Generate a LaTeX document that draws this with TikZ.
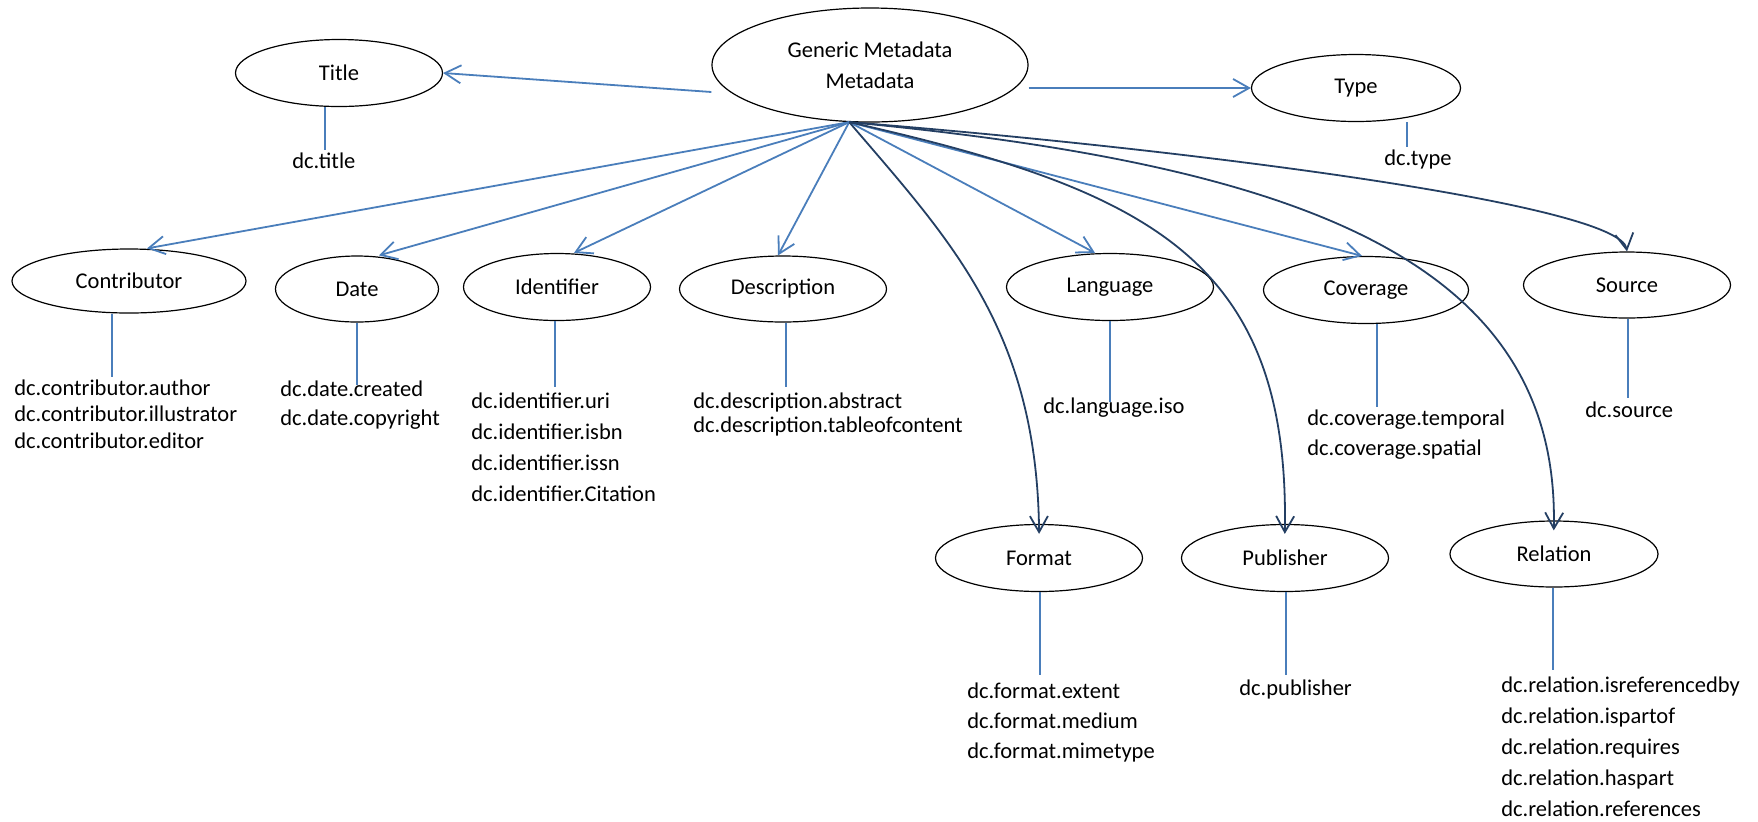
\documentclass[tikz,border=0pt]{standalone}
\usepackage{fontspec}
\setmainfont{Carlito}
\usetikzlibrary{shapes.geometric,arrows.meta}

\definecolor{dcblue}{RGB}{74,126,187}
\definecolor{dcnavy}{RGB}{36,63,99}
\newcommand{\dcfont}{\fontsize{11.25}{13.5}\selectfont}

\tikzset{
  oval/.style 2 args={draw, ellipse, inner sep=0pt, line width=0.6pt,
    minimum width=#1*0.5pt, minimum height=#2*0.5pt},
  leaf/.style={anchor=base west, inner sep=0pt},
  stemline/.style={dcblue, line width=0.7pt},
  link/.style={->, dcblue, line width=0.9pt},
  curvelink/.style={->, dcnavy, line width=0.9pt}
}

\begin{document}
\begin{tikzpicture}[x=0.5pt,y=-0.5pt,>={Straight Barb[length=8pt,width=9pt]},font=\dcfont]
\useasboundingbox (0,0) rectangle (1758,821);

% elements
\node[oval={316}{114}, align=center] (gen) at (870,65) {Generic Metadata\\[2pt]Metadata};
\node[oval={207}{67}] (title) at (339,73) {Title};
\node[oval={209}{67}] (type) at (1356,88) {Type};
\node[oval={234}{64}] (contrib) at (129,281) {Contributor};
\node[oval={163}{66}] (date) at (357,289) {Date};
\node[oval={187}{67}] (ident) at (557,287) {Identifier};
\node[oval={207}{66}] (desc) at (783,289) {Description};
\node[oval={207}{67}] (lang) at (1110,287) {Language};
\node[oval={205}{67}] (cov) at (1366,290) {Coverage};
\node[oval={207}{66}] (source) at (1627,285) {Source};
\node[oval={207}{67}] (format) at (1039,558) {Format};
\node[oval={207}{67}] (pub) at (1285,558) {Publisher};
\node[oval={208}{66}] (rel) at (1554,554) {Relation};

% qualifiers
\node[leaf] (title-1) at (292,168) {dc.title};
\node[leaf] (type-1) at (1384,165) {dc.type};
\foreach \t [count=\i] in {dc.contributor.author,dc.contributor.illustrator,dc.contributor.editor}
  \node[leaf] (contrib-\i) at (14,{395+(\i-1)*26.5}) {\t};
\foreach \t [count=\i] in {dc.date.created,dc.date.copyright}
  \node[leaf] (date-\i) at (280,{396+(\i-1)*29}) {\t};
\foreach \t [count=\i] in {dc.identifier.uri,dc.identifier.isbn,dc.identifier.issn,dc.identifier.Citation}
  \node[leaf] (ident-\i) at (471,{408+(\i-1)*31.3}) {\t};
\foreach \t [count=\i] in {dc.description.abstract,dc.description.tableofcontent}
  \node[leaf] (desc-\i) at (693,{408+(\i-1)*24}) {\t};
\node[leaf] (lang-1) at (1043,413) {dc.language.iso};
\foreach \t [count=\i] in {dc.coverage.temporal,dc.coverage.spatial}
  \node[leaf] (cov-\i) at (1307,{425+(\i-1)*30}) {\t};
\node[leaf] (source-1) at (1585,417) {dc.source};
\foreach \t [count=\i] in {dc.format.extent,dc.format.medium,dc.format.mimetype}
  \node[leaf] (format-\i) at (967,{698+(\i-1)*30}) {\t};
\node[leaf] (pub-1) at (1239,695) {dc.publisher};
\foreach \t [count=\i] in {dc.relation.isreferencedby,dc.relation.ispartof,dc.relation.requires,dc.relation.haspart,dc.relation.references}
  \node[leaf] (rel-\i) at (1501,{692+(\i-1)*31}) {\t};

% stems
\foreach \n/\x/\y in {title/325/150,type/1407/147,contrib/112/377,date/357/385,ident/555/387,
  desc/786/387,lang/1110/402,cov/1377/407,source/1628/398,format/1040/675,pub/1286/675,rel/1553/670}
{
  \coordinate (\n-end) at (\x,\y);
  \draw[stemline] (\n.south -| \n-end) -- (\n-end);
}

% arrows
\coordinate (hub) at (gen.250);
\draw[link] ([yshift=-13.5pt]gen.west) -- (title.east);
\draw[link] (gen.east |- type.west) -- (type.west);
\foreach \n/\s in {contrib/9,date/11,ident/8.5,desc/-2.5,lang/-7.5,cov/-2}
  \draw[link] (hub) -- ([xshift=\s pt]\n.north);
\draw[curvelink,shorten >=-5pt] (hub) .. controls (950,240) and (1037,330) .. (format.north);
\draw[curvelink,shorten >=-5pt] (hub) .. controls (1150,190) and (1290,260) .. (pub.north);
\draw[curvelink,shorten >=-5pt] (hub) .. controls (1300,165) and (1560,260) .. (rel.north);
\draw[curvelink] (hub) .. controls (1200,150) and (1620,205) .. (source.north);
\end{tikzpicture}
\end{document}
